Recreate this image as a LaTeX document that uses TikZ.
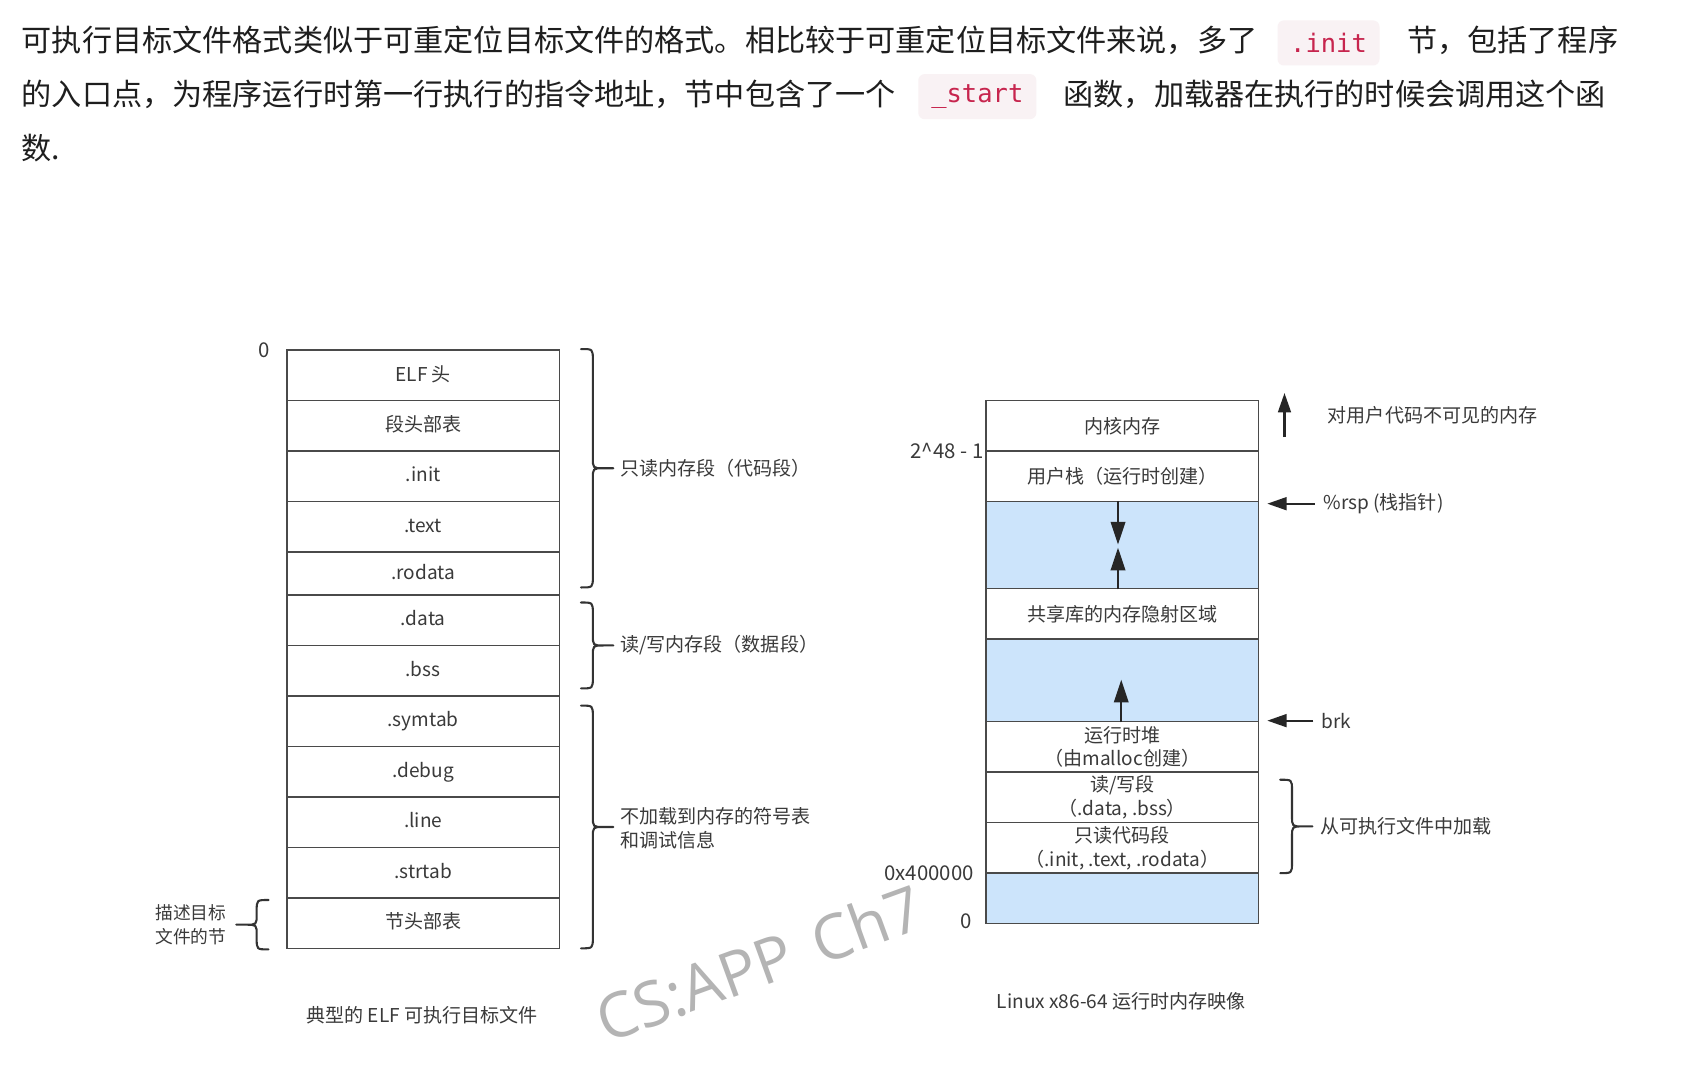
\documentclass[tikz,border=0pt]{standalone}
\usepackage{fontspec}
\setmainfont{Noto Sans CJK SC}
\newfontfamily\codefont{DejaVu Sans Mono}
\newfontfamily\markfont{Open Sans}
\usetikzlibrary{arrows.meta}
\definecolor{boxline}{HTML}{4A4A4A}
\definecolor{labgray}{HTML}{3A3A3A}
\definecolor{paratext}{HTML}{1E1E1E}
\definecolor{memblue}{HTML}{CCE4FB}
\definecolor{codered}{HTML}{C7254E}
\definecolor{codebg}{HTML}{F9F2F4}
\definecolor{markgray}{HTML}{B4B4B4}
\tikzset{
  brc/.style={draw=black!80,line width=1.1pt,line cap=round,line join=round},
}
% curly brace: x of the ends, top, bottom, side (1 right, -1 left)
\newcommand{\bracemark}[4]{%
  \draw[brc] (#1,#2) .. controls ({#1+11*(#4)},#2) .. ({#1+11*(#4)},{#2+10})
    -- ({#1+11*(#4)},{(#2+#3)/2-10}) .. controls ({#1+11*(#4)},{(#2+#3)/2}) .. ({#1+21*(#4)},{(#2+#3)/2})
    -- ({#1+30*(#4)},{(#2+#3)/2})
    (#1,#3) .. controls ({#1+11*(#4)},#3) .. ({#1+11*(#4)},{#3-10})
    -- ({#1+11*(#4)},{(#2+#3)/2+10}) .. controls ({#1+11*(#4)},{(#2+#3)/2}) .. ({#1+21*(#4)},{(#2+#3)/2});
}
\begin{document}
\begin{tikzpicture}[x=0.02cm,y=-0.02cm,
  every node/.style={text=labgray,font=\fontsize{10.1}{12.6}\selectfont},
  para/.style={anchor=west,inner sep=0pt,text=paratext,font=\fontsize{15.97}{20}\selectfont},
  code/.style={fill=codebg,rounded corners=0.12cm,inner sep=0pt,text=codered,font=\codefont\fontsize{13.5}{16}\selectfont,minimum height=0.84cm},
  sect/.style={draw=boxline,line width=0.8pt,minimum width=5.08cm,inner sep=0pt},
  onerow/.style={text height=0.8em,text depth=0.2em},
  side/.style={anchor=west,inner sep=0pt},
  addr/.style={anchor=east,inner sep=0pt,font=\fontsize{10.8}{13}\selectfont},
  memarrow/.style={draw=black!85,line width=1.1pt,-{Triangle[length=0.42cm,width=0.27cm]}},
  sidearrow/.style={draw=black!85,line width=1.1pt,-{Triangle[length=0.36cm,width=0.24cm]}}]
\fill[white] (0,0) rectangle (1568,999);
\useasboundingbox (0,0) rectangle (1568,999);

% text above the figure
\node[para] (p1a) at (20,38) {可执行目标文件格式类似于可重定位目标文件的格式。相比较于可重定位目标文件来说，多了};
\node[code,minimum width=1.9cm] (initcode) at (1237,40) {.init};
\node[para] (p1b) at (1310,38) {节，包括了程序};
\node[para] (p2a) at (20,88) {的入口点，为程序运行时第一行执行的指令地址，节中包含了一个};
\node[code,minimum width=2.2cm] (startcode) at (910,90) {\_start};
\node[para] (p2b) at (990,88) {函数，加载器在执行的时候会调用这个函};
\node[para] (p3) at (20,138) {数.};

% typical ELF executable
\node[addr] (zeroL) at (252,326) {0};
\foreach \lab/\ya/\yb [count=\i] in {ELF 头/326/373,段头部表/373/420,.init/420/467,.text/467/514,.rodata/514/554,.data/554/601,.bss/601/648,.symtab/648/695,.debug/695/742,.line/742/789,.strtab/789/836,节头部表/836/883}
  \node[sect,onerow,minimum height={(\yb-\ya)*0.02cm}] (L\i) at (394,{(\ya+\yb)/2}) {\lab};
\bracemark{541}{325}{547}{1}
\node[side] (ro) at (577,436) {只读内存段（代码段）};
\bracemark{541}{561}{641}{1}
\node[side] (rw) at (577,601) {读/写内存段（数据段）};
\bracemark{541}{657}{883}{1}
\node[side,align=left] (noload) at (577,771) {不加载到内存的符号表\\和调试信息};
\bracemark{250}{838}{884}{-1}
\node[anchor=east,inner sep=0pt,align=left,font=\fontsize{9.4}{12.8}\selectfont] (desc) at (211,861) {描述目标\\文件的节};
\node (elfcap) at (393,945) {典型的 ELF 可执行目标文件};

% Linux x86-64 run-time memory image
\foreach \lab/\ya/\yb/\fc [count=\i] in {内核内存/373/420/white,用户栈（运行时创建）/420/467/white,/467/548/memblue,共享库的内存隐射区域/548/595/white,/595/672/memblue,{运行时堆\\（由malloc创建）}/672/719/white,{读/写段\\（.data, .bss）}/719/766/white,{只读代码段\\（.init, .text, .rodata）}/766/813/white,/813/860/memblue}
  \node[sect,fill=\fc,align=center,minimum height={(\yb-\ya)*0.02cm}] (R\i) at (1045,{(\ya+\yb)/2}) {\lab};
\node[addr] (top48) at (916,420) {2\textasciicircum48 - 1};
\node[addr] (addr4) at (907,813) {0x400000};
\node[addr] (zeroR) at (905,858) {0};
\coordinate (stkdown) at (1041,507);
\coordinate (stkup) at (1041,510);
\draw[memarrow] (R3.north -| stkdown) -- (stkdown);
\draw[memarrow] (R3.south -| stkup) -- (stkup);
\coordinate (heaptip) at (1044,633);
\draw[memarrow] (R5.south -| heaptip) -- (heaptip);

\coordinate (kbase) at (1196,407);
\coordinate (ktop) at (1196,366);
\draw[sidearrow] (kbase) -- (ktop);
\node[side] (hidden) at (1236,387) {对用户代码不可见的内存};
\node[side] (rsp) at (1232,469) {\%rsp (栈指针)};
\coordinate (rsptip) at (1180,469);
\draw[sidearrow] ([xshift=-0.16cm]rsp.west) -- (rsptip);
\node[side] (brk) at (1230,671) {brk};
\coordinate (brktip) at (1180,671);
\draw[sidearrow] ([xshift=-0.14cm]brk.west) -- (brktip);
\bracemark{1192}{726}{813}{1}
\node[side] (load) at (1229,769) {从可执行文件中加载};
\node (memcap) at (1044,932) {Linux x86-64 运行时内存映像};

% watermark
\node[rotate=20,text=markgray,font=\markfont\fontsize{33}{40}\selectfont] (mark) at (707,897) {CS:APP\hspace{0.4em}Ch7};
\end{tikzpicture}
\end{document}
